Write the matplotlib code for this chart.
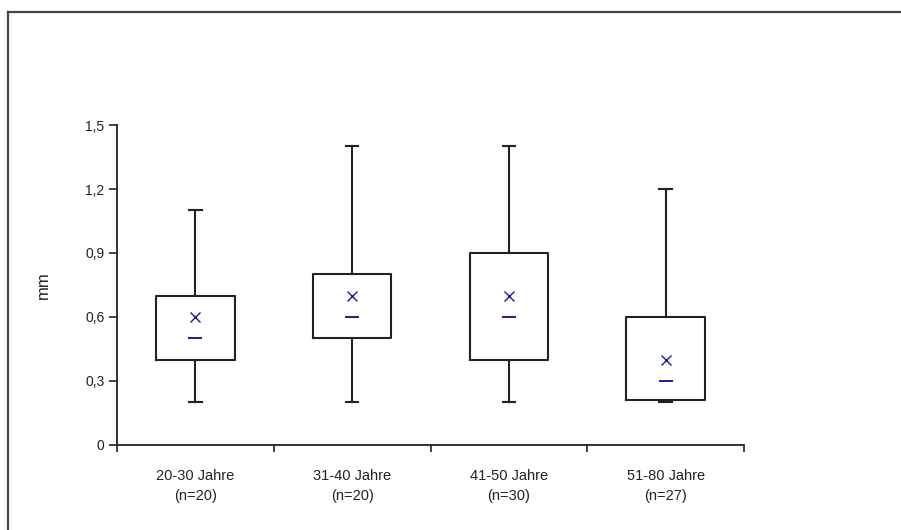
import matplotlib
matplotlib.use("Agg")
import matplotlib.pyplot as plt
from matplotlib.lines import Line2D

plt.rcParams['font.family'] = ['Liberation Sans', 'DejaVu Sans']

# age groups and box statistics (mm)
groups = ["20-30 Jahre", "31-40 Jahre", "41-50 Jahre", "51-80 Jahre"]
counts = [20, 20, 30, 27]
minimum = [0.2, 0.2, 0.2, 0.2]
quart1 = [0.4, 0.5, 0.4, 0.21]
median = [0.5, 0.6, 0.6, 0.3]
mean = [0.6, 0.7, 0.7, 0.4]
quart3 = [0.7, 0.8, 0.9, 0.6]
maximum = [1.1, 1.4, 1.4, 1.2]

y_ticks = [0, 0.3, 0.6, 0.9, 1.2, 1.5]
y_ticklabels = ["0", "0,3", "0,6", "0,9", "1,2", "1,5"]

dark = "#222222"
blue = "#1c1c96"

fig = plt.figure(figsize=(9.01, 5.30), dpi=100)
ax = fig.add_axes([117 / 901, 85 / 530, 627 / 901, 320 / 530])

stats = []
for i in range(len(groups)):
    stats.append(dict(whislo=minimum[i], q1=quart1[i], med=median[i],
                      q3=quart3[i], whishi=maximum[i], fliers=[]))

pos = list(range(len(groups)))
ax.bxp(stats, positions=pos, widths=0.5, showfliers=False,
       boxprops=dict(color=dark, linewidth=1.5),
       whiskerprops=dict(color=dark, linewidth=1.5),
       capprops=dict(color=dark, linewidth=1.5),
       medianprops=dict(linewidth=0),
       capwidths=0.08)

# mean as cross, median as short dash
ax.plot(pos, mean, linestyle="none", marker="x", color=blue,
        markersize=6.5, markeredgewidth=1.0)
ax.plot(pos, median, linestyle="none", marker="_", color=blue,
        markersize=9.5, markeredgewidth=1.4)

ax.set_xlim(-0.5, len(groups) - 0.5)
ax.set_ylim(0, 1.5)

ax.set_yticks(y_ticks)
ax.set_yticklabels(y_ticklabels, fontsize=10, color=dark)
ax.tick_params(axis="y", direction="out", length=6, width=1.2, color=dark, pad=3)

ax.set_xticks([p - 0.5 for p in pos] + [len(groups) - 0.5])
ax.set_xticklabels([])
ax.tick_params(axis="x", which="major", direction="out", length=5, width=1.2, color=dark)
ax.set_xticks(pos, minor=True)
ax.set_xticklabels([f"{g}\n(n={n})" for g, n in zip(groups, counts)],
                   minor=True, fontsize=10.5, color=dark, linespacing=1.6)
ax.tick_params(axis="x", which="minor", length=0, pad=17)

for side in ["top", "right"]:
    ax.spines[side].set_visible(False)
for side in ["left", "bottom"]:
    ax.spines[side].set_color(dark)
    ax.spines[side].set_linewidth(1.3)

ax.set_ylabel("mm", fontsize=12, color=dark)
ax.yaxis.set_label_coords(-66 / 627, 0.5)

# outer frame, left and top edges only
frame_col = "#444444"
fig.add_artist(Line2D([8 / 901, 8 / 901], [0, 1 - 12 / 530],
                      transform=fig.transFigure, color=frame_col, linewidth=1.6))
fig.add_artist(Line2D([8 / 901, 1], [1 - 12 / 530, 1 - 12 / 530],
                      transform=fig.transFigure, color=frame_col, linewidth=1.6))

fig.savefig("out.png", dpi=100, facecolor="white")
